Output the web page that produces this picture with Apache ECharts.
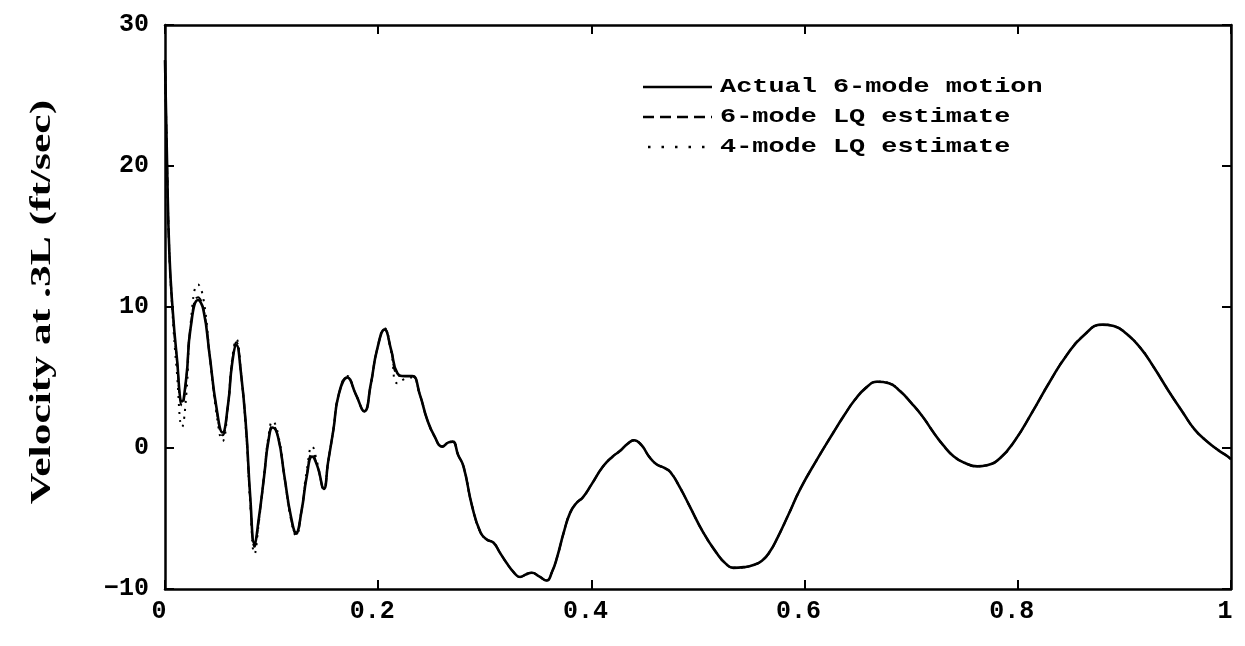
<!DOCTYPE html>
<html>
<head>
<meta charset="utf-8">
<script src="https://cdn.jsdelivr.net/npm/echarts@6/dist/echarts.min.js"></script>
<style>
  html, body { margin: 0; padding: 0; background: #fff; }
  #chart { width: 1245px; height: 646px; }
</style>
</head>
<body>
<div id="chart"></div>
<script>
// Time base (normalised) shared by the three traces
const time = [0, 0.002, 0.004, 0.007, 0.011, 0.016, 0.020, 0.024, 0.031, 0.036,
  0.042, 0.048, 0.054, 0.059, 0.063, 0.067, 0.071, 0.076, 0.080, 0.084,
  0.088, 0.093, 0.097, 0.101, 0.106, 0.112, 0.118, 0.123, 0.128, 0.133,
  0.138, 0.143, 0.149, 0.153, 0.158, 0.163, 0.171, 0.179, 0.187, 0.193,
  0.199, 0.206, 0.212, 0.218, 0.225, 0.232, 0.239, 0.246, 0.253, 0.260,
  0.266, 0.270, 0.275, 0.280, 0.288, 0.296, 0.302, 0.308, 0.314, 0.320,
  0.327, 0.333, 0.339, 0.344, 0.351, 0.358, 0.363, 0.368, 0.374, 0.380,
  0.386, 0.392, 0.400, 0.411, 0.420, 0.427, 0.434, 0.440, 0.447, 0.454,
  0.461, 0.468, 0.474, 0.483, 0.492, 0.505, 0.518, 0.526, 0.533, 0.543,
  0.552, 0.560, 0.567, 0.575, 0.585, 0.596, 0.611, 0.627, 0.637, 0.647,
  0.658, 0.668, 0.679, 0.690, 0.700, 0.711, 0.720, 0.730, 0.740, 0.750,
  0.762, 0.772, 0.783, 0.797, 0.814, 0.830, 0.846, 0.862, 0.879, 0.890,
  0.902, 0.915, 0.927, 0.941, 0.955, 0.966, 0.977, 0.988, 0.997, 1.0];

// Actual 6-mode motion (ft/sec)
const actualMotion = [27.5, 20.0, 14.0, 10.0, 6.5, 3.3, 5.0, 8.5, 10.5, 9.8,
  6.5, 3.0, 1.1, 3.0, 6.0, 7.3, 5.5, 1.5, -3.5, -6.8,
  -5.0, -2.0, 0.5, 1.45, 0.8, -2.0, -4.8, -6.0, -4.5, -2.0,
  -0.6, -1.3, -2.9, -1.0, 1.3, 3.8, 5.0, 3.8, 2.6, 4.5,
  7.0, 8.4, 7.0, 5.3, 5.1, 5.1, 3.8, 2.0, 0.8, 0.1,
  0.4, 0.45, -0.5, -1.3, -4.1, -6.0, -6.5, -6.7, -7.4, -8.1,
  -8.8, -9.15, -8.95, -8.85, -9.1, -9.4, -8.8, -7.7, -6.0, -4.6,
  -3.9, -3.5, -2.6, -1.3, -0.6, -0.2, 0.3, 0.55, 0.2, -0.6,
  -1.15, -1.4, -1.7, -2.8, -4.1, -6.0, -7.5, -8.2, -8.5, -8.45,
  -8.3, -8.0, -7.4, -6.3, -4.7, -2.9, -0.9, 1.1, 2.3, 3.4,
  4.3, 4.7, 4.6, 4.0, 3.2, 2.2, 1.2, 0.2, -0.6, -1.05,
  -1.3, -1.2, -0.75, 0.5, 2.6, 4.7, 6.6, 8.0, 8.75, 8.65,
  8.1, 7.1, 5.8, 4.1, 2.5, 1.3, 0.5, -0.15, -0.6, -0.8];

// 6-mode LQ estimate (ft/sec)
const lq6Estimate = [27.5, 20.0, 14.0, 10.0, 6.4, 3.0, 4.9, 8.6, 10.7, 9.9,
  6.5, 2.9, 0.9, 3.0, 6.1, 7.5, 5.5, 1.4, -3.7, -7.0,
  -5.1, -2.0, 0.6, 1.6, 0.8, -2.0, -4.9, -6.1, -4.5, -1.9,
  -0.4, -1.3, -2.9, -1.0, 1.3, 3.8, 5.0, 3.8, 2.6, 4.5,
  7.0, 8.4, 7.0, 5.2, 5.1, 5.1, 3.8, 2.0, 0.8, 0.1,
  0.4, 0.45, -0.5, -1.3, -4.1, -6.0, -6.5, -6.7, -7.4, -8.1,
  -8.8, -9.15, -8.95, -8.85, -9.1, -9.4, -8.8, -7.7, -6.0, -4.6,
  -3.9, -3.5, -2.6, -1.3, -0.6, -0.2, 0.3, 0.55, 0.2, -0.6,
  -1.15, -1.4, -1.7, -2.8, -4.1, -6.0, -7.5, -8.2, -8.5, -8.45,
  -8.3, -8.0, -7.4, -6.3, -4.7, -2.9, -0.9, 1.1, 2.3, 3.4,
  4.3, 4.7, 4.6, 4.0, 3.2, 2.2, 1.2, 0.2, -0.6, -1.05,
  -1.3, -1.2, -0.75, 0.5, 2.6, 4.7, 6.6, 8.0, 8.75, 8.65,
  8.1, 7.1, 5.8, 4.1, 2.5, 1.3, 0.5, -0.15, -0.6, -0.8];

// 4-mode LQ estimate (ft/sec)
const lq4Estimate = [27.5, 20.0, 14.0, 9.6, 5.5, 1.5, 3.8, 8.8, 11.6, 10.6,
  6.6, 2.6, 0.5, 2.9, 6.3, 7.7, 5.6, 1.2, -4.0, -7.5,
  -5.3, -1.9, 0.8, 1.9, 1.0, -2.0, -5.0, -6.2, -4.4, -1.6,
  0.1, -1.1, -2.9, -1.0, 1.3, 3.8, 5.1, 3.8, 2.6, 4.5,
  7.0, 8.5, 6.9, 4.6, 4.9, 5.0, 3.8, 2.0, 0.8, 0.1,
  0.4, 0.45, -0.5, -1.3, -4.1, -6.0, -6.5, -6.7, -7.4, -8.1,
  -8.8, -9.15, -8.95, -8.85, -9.1, -9.4, -8.8, -7.7, -6.0, -4.6,
  -3.9, -3.5, -2.6, -1.3, -0.6, -0.2, 0.3, 0.55, 0.2, -0.6,
  -1.15, -1.4, -1.7, -2.8, -4.1, -6.0, -7.5, -8.2, -8.5, -8.45,
  -8.3, -8.0, -7.4, -6.3, -4.7, -2.9, -0.9, 1.1, 2.3, 3.4,
  4.3, 4.7, 4.6, 4.0, 3.2, 2.2, 1.2, 0.2, -0.6, -1.05,
  -1.3, -1.2, -0.75, 0.5, 2.6, 4.7, 6.6, 8.0, 8.75, 8.65,
  8.1, 7.1, 5.8, 4.1, 2.5, 1.3, 0.5, -0.15, -0.6, -0.8];

// Axis ticks
const xTicks = [0, 0.2, 0.4, 0.6, 0.8, 1];
const yTicks = [-10, 0, 10, 20, 30];

// Legend entries
const seriesNames = ['Actual 6-mode motion', '6-mode LQ estimate', '4-mode LQ estimate'];
const yAxisTitle = 'Velocity at .3L (ft/sec)';

const pairs = (vals) => time.map((t, i) => [t, vals[i]]);

const tickFont = { fontFamily: 'Liberation Mono', fontWeight: 'bold', fontSize: 25, color: '#000' };
const frameLine = { onZero: false, lineStyle: { color: '#000', width: 2.5 } };
const innerTick = { inside: true, length: 9, lineStyle: { color: '#000', width: 2 } };

const xBase = {
  type: 'value',
  min: xTicks[0],
  max: xTicks[xTicks.length - 1],
  interval: xTicks[1] - xTicks[0],
  axisLine: frameLine,
  axisTick: innerTick,
  splitLine: { show: false }
};
const yBase = {
  type: 'value',
  min: yTicks[0],
  max: yTicks[yTicks.length - 1],
  interval: yTicks[1] - yTicks[0],
  axisLine: frameLine,
  axisTick: innerTick,
  splitLine: { show: false }
};

const legendRows = [
  { y: 87, dash: null, x1: 643 },
  { y: 117, dash: [11, 6], x1: 643 },
  { y: 147, dash: [2.5, 11], x1: 648 }
];
const legendGraphics = [];
legendRows.forEach((row, i) => {
  legendGraphics.push({
    type: 'line',
    shape: { x1: row.x1, y1: row.y, x2: 712, y2: row.y },
    style: { stroke: '#000', lineWidth: 2.5, lineDash: row.dash }
  });
  legendGraphics.push({
    type: 'text',
    x: 720, y: row.y,
    scaleX: 1.28,
    style: {
      text: seriesNames[i],
      font: 'bold 21px "Liberation Mono"',
      fill: '#000',
      align: 'left',
      verticalAlign: 'middle'
    }
  });
});

const chart = echarts.init(document.getElementById('chart'), null, { renderer: 'canvas' });
chart.setOption({
  backgroundColor: '#fff',
  animation: false,
  grid: { left: 165, right: 14, top: 25, bottom: 57 },
  xAxis: [
    Object.assign({}, xBase, {
      position: 'bottom',
      axisLabel: Object.assign({ margin: 10, padding: [0, 12, 0, 0] }, tickFont)
    }),
    Object.assign({}, xBase, { position: 'top', axisLabel: { show: false } })
  ],
  yAxis: [
    Object.assign({}, yBase, {
      position: 'left',
      axisLabel: Object.assign({
        margin: 16,
        formatter: (v) => (v < 0 ? '\u2212' + Math.abs(v) : String(v))
      }, tickFont)
    }),
    Object.assign({}, yBase, { position: 'right', axisLabel: { show: false } })
  ],
  legend: { show: false },
  graphic: [
    {
      type: 'text',
      x: 43, y: 302,
      rotation: Math.PI / 2,
      scaleX: 1.5,
      style: {
        text: yAxisTitle,
        font: 'bold 29px "Liberation Serif"',
        fill: '#000',
        align: 'center',
        verticalAlign: 'middle'
      }
    }
  ].concat(legendGraphics),
  series: [
    {
      name: seriesNames[0], type: 'line', data: pairs(actualMotion),
      xAxisIndex: 0, yAxisIndex: 0,
      showSymbol: false, smooth: 0.5,
      lineStyle: { color: '#000', width: 2.6 }
    },
    {
      name: seriesNames[1], type: 'line', data: pairs(lq6Estimate),
      xAxisIndex: 0, yAxisIndex: 0,
      showSymbol: false, smooth: 0.5,
      lineStyle: { color: '#000', width: 2, type: [8, 5] }
    },
    {
      name: seriesNames[2], type: 'line', data: pairs(lq4Estimate),
      xAxisIndex: 0, yAxisIndex: 0,
      showSymbol: false, smooth: 0.5,
      lineStyle: { color: '#000', width: 2, type: [2, 6] }
    }
  ]
});
</script>
</body>
</html>
